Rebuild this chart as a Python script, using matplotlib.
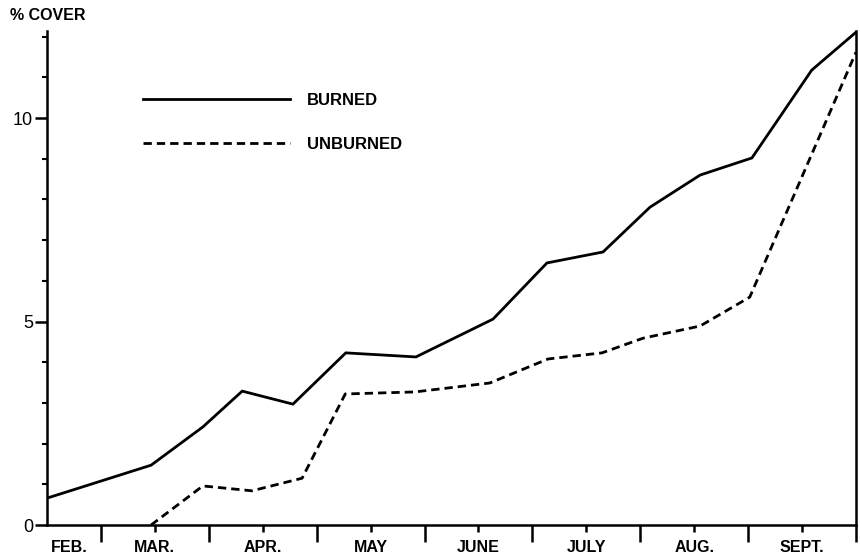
import matplotlib.pyplot as plt
from matplotlib.ticker import MultipleLocator

# x in half-month steps from the left axis (0) to the right axis (15)
burned_x = [0, 1.93, 2.89, 3.62, 4.56, 5.54, 6.84, 8.27, 9.27, 10.31, 11.18, 12.11, 13.07, 14.18, 15.0]
burned_y = [0.66, 1.47, 2.41, 3.29, 2.97, 4.23, 4.13, 5.06, 6.44, 6.71, 7.81, 8.60, 9.02, 11.18, 12.11]

unburned_x = [1.93, 2.89, 3.80, 4.73, 5.53, 6.82, 8.21, 9.29, 10.29, 11.05, 12.11, 13.03, 15.0]
unburned_y = [0.0, 0.96, 0.84, 1.15, 3.22, 3.27, 3.49, 4.08, 4.23, 4.59, 4.89, 5.60, 11.62]

month_pos = [0.42, 2, 4, 6, 8, 10, 12, 14]
month_labels = ["FEB.", "MAR.", "APR.", "MAY", "JUNE", "JULY", "AUG.", "SEPT."]

plt.rcParams['font.family'] = ['Liberation Sans', 'DejaVu Sans']

fig = plt.figure(figsize=(8.6, 5.6), dpi=100)
ax = fig.add_axes([47/860, 35/560, 809/860, 494/560])

ax.plot(burned_x, burned_y, color='black', lw=2.0, label='BURNED', solid_joinstyle='miter')
ax.plot(unburned_x, unburned_y, color='black', lw=2.0, dashes=(3.0, 1.8), label='UNBURNED')

ax.set_xlim(0, 15)
ax.set_ylim(0, 12.14)

ax.spines['top'].set_visible(False)
for s in ['left', 'bottom', 'right']:
    ax.spines[s].set_linewidth(1.8)

# x ticks: long at month boundaries, short at mid-month
ax.set_xticks([1, 3, 5, 7, 9, 11, 13, 15])
ax.set_xticks([2, 4, 6, 8, 10, 12, 14], minor=True)
ax.tick_params(axis='x', which='major', direction='out', length=12, width=1.8, labelbottom=False)
ax.tick_params(axis='x', which='minor', direction='out', length=5, width=1.8)
for p, lab in zip(month_pos, month_labels):
    ax.annotate(lab, xy=(p, 0), xycoords=('data', 'axes fraction'), xytext=(0, -16.5),
                textcoords='offset points', ha='center', va='center',
                fontsize=11.5, fontweight='bold')

ax.set_yticks([0, 5, 10])
ax.yaxis.set_minor_locator(MultipleLocator(1))
ax.tick_params(axis='y', which='major', direction='out', length=9, width=1.8, pad=1,
               labelsize=13)
ax.tick_params(axis='y', which='minor', direction='out', length=3.5, width=1.5)
ax.tick_params(right=False)

fig.text(10/860, 1 - 15/560, "% COVER", ha='left', va='center', fontsize=11.5, fontweight='bold')

ax.legend(loc='upper left', bbox_to_anchor=(0.119, 0.874), frameon=False,
          prop={'weight': 'bold', 'size': 12}, handlelength=8.8, handletextpad=1.0,
          labelspacing=1.7, borderpad=0, borderaxespad=0)

fig.savefig('out.png', dpi=100)
